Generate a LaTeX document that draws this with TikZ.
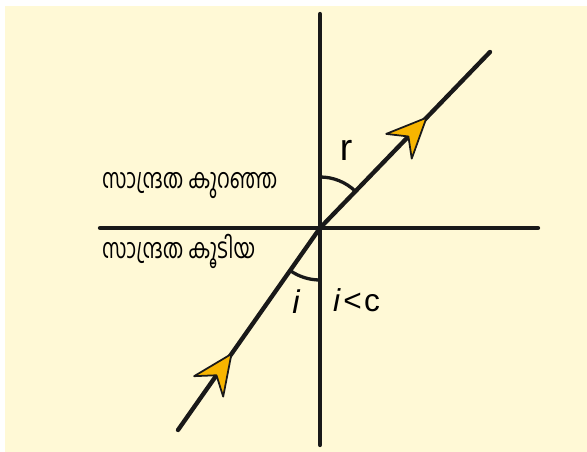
\documentclass[tikz,border=0pt]{standalone}
\usepackage{fontspec}
\setmainfont{Liberation Sans}
\newfontfamily\mlfont[Script=Malayalam]{Hind Kochi}
\usetikzlibrary{arrows.meta,decorations.markings}
\definecolor{paper}{HTML}{FFF9D6}
\definecolor{rayyellow}{HTML}{F7B500}

\begin{document}
\begin{tikzpicture}[x=0.03cm,y=0.03cm,line cap=round,
  axis/.style={line width=3.7pt,black!90},
  ray/.style={line width=3.7pt,black!90,postaction={decorate}},
  angarc/.style={line width=2.8pt,black!90},
  mltext/.style={anchor=west,font=\mlfont\fontsize{18}{20}\selectfont,inner sep=0pt,xscale=0.96,yscale=1.3}]
\useasboundingbox (0,0) rectangle (587,452);
\fill[paper] (5,0) rectangle (587,446);
% the two media
\coordinate (O) at (320,224);
\coordinate (top) at (320,438);
\coordinate (bot) at (320,7);
\coordinate (left) at (100,224);
\coordinate (right) at (538,224);
\coordinate (src) at (178,22);
\coordinate (dst) at (490,400);
\draw[axis] (top) -- (bot);
\draw[axis] (left) -- (right);
% incident and refracted ray
\draw[ray,decoration={markings,mark=at position 0.38 with {\arrow[black!90]{Stealth[length=38pt,width=34pt,inset=13pt,fill=rayyellow,line width=1.5pt,round]}}}] (src) -- (O);
\draw[ray,decoration={markings,mark=at position 0.63 with {\arrow[black!90]{Stealth[length=38pt,width=34pt,inset=13pt,fill=rayyellow,line width=1.5pt,round]}}}] (O) -- (dst);
% angles
\draw[angarc] (O) ++(90:51) arc[start angle=90,end angle=46,radius=51];
\draw[angarc] (O) ++(270:52) arc[start angle=270,end angle=235,radius=52];
\node[font=\fontsize{32}{32}\selectfont] (rlab) at (346,302) {r};
\node[font=\fontsize{28}{28}\selectfont\itshape] (ilab) at (296,150) {i};
\node[anchor=west,font=\fontsize{27}{27}\selectfont,inner sep=0pt] (cond) at (333,152) {\textit{i}\hspace{2pt}<\hspace{2pt}c};
\node[mltext] (less) at (102,266) {സാന്ദ്രത കുറഞ്ഞ};
\node[mltext] (more) at (102,201) {സാന്ദ്രത കൂടിയ};
\end{tikzpicture}
\end{document}
